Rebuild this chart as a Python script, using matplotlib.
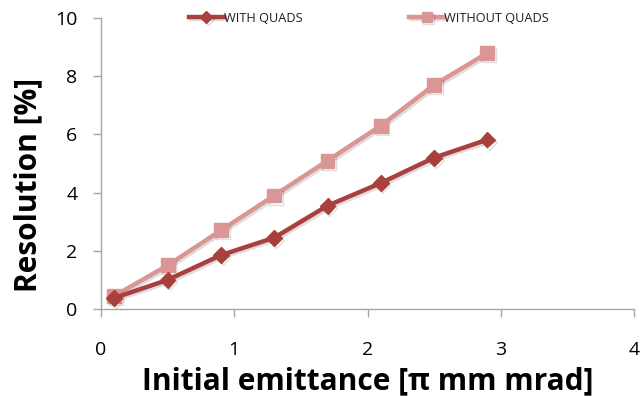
import matplotlib
matplotlib.use("Agg")
import matplotlib.pyplot as plt
import matplotlib.patheffects as pe

emittance = [0.1, 0.5, 0.9, 1.3, 1.7, 2.1, 2.5, 2.9]
with_quads = [0.38, 1.0, 1.85, 2.45, 3.55, 4.33, 5.2, 5.82]
without_quads = [0.45, 1.5, 2.7, 3.9, 5.1, 6.3, 7.7, 8.8]

x_ticks = [0, 1, 2, 3, 4]
y_ticks = [0, 2, 4, 6, 8, 10]

dark_red = "#A8403E"
pink = "#D99694"
axis_grey = "#A6A6A6"

plt.rcParams["font.family"] = ["Open Sans", "DejaVu Sans"]

W, H = 641, 397
fig = plt.figure(figsize=(W / 100, H / 100), dpi=100)
ax = fig.add_axes([101 / W, 1 - 309 / H, 533 / W, 291 / H])

shadow = [pe.SimpleLineShadow(offset=(1.2, -1.5), alpha=0.13, shadow_color="black"),
          pe.Normal()]

ax.plot(emittance, without_quads, color=pink, lw=3.2, marker="s", ms=10,
        label="WITHOUT QUADS", path_effects=shadow, zorder=3)
ax.plot(emittance, with_quads, color=dark_red, lw=3.2, marker="D", ms=8,
        label="WITH QUADS", path_effects=shadow, zorder=4)

ax.set_xlim(0, 4)
ax.set_ylim(0, 10)
ax.set_xticks(x_ticks)
ax.set_yticks(y_ticks)
ax.tick_params(axis="both", labelsize=14, color=axis_grey, length=6, width=1)
ax.tick_params(axis="x", pad=17)
ax.tick_params(axis="y", pad=11)

for side in ("top", "right"):
    ax.spines[side].set_visible(False)
for side in ("left", "bottom"):
    ax.spines[side].set_color(axis_grey)
    ax.spines[side].set_linewidth(1)

ax.set_xlabel("Initial emittance [π mm mrad]", fontsize=21.5, fontweight="bold", labelpad=5)
ax.set_ylabel("Resolution [%]", fontsize=21.5, fontweight="bold")
ax.yaxis.set_label_coords(-0.108, 0.426)

handles, labels = ax.get_legend_handles_labels()
leg = ax.legend(handles[::-1], labels[::-1], loc="center left", ncol=2, frameon=False,
                bbox_to_anchor=(189 / W, 1 - 18 / H), bbox_transform=fig.transFigure,
                fontsize=9.2, handlelength=2.7, handletextpad=0.0, columnspacing=8.4,
                borderpad=0, borderaxespad=0, markerscale=0.75)
for txt in leg.get_texts():
    txt.set_color("#1F1F1F")

fig.savefig("out.png", dpi=100)
